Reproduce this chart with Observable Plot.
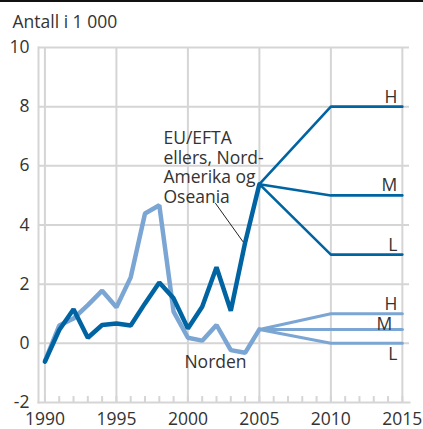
<!DOCTYPE html>
<html><head><meta charset="utf-8">
<script src="https://cdn.jsdelivr.net/npm/d3@7"></script>
<script src="https://cdn.jsdelivr.net/npm/@observablehq/plot@0.6"></script>
<style>body{margin:0;background:#fff}</style>
</head><body><div id="chart"></div>
<script>
const years = [1990,1991,1992,1993,1994,1995,1996,1997,1998,1999,2000,2001,2002,2003,2004,2005];
const euEfta = [-0.62,0.45,1.15,0.19,0.62,0.67,0.6,1.35,2.06,1.52,0.5,1.24,2.57,1.1,3.4,5.38];
const norden = [-0.6,0.6,0.84,1.29,1.78,1.22,2.23,4.39,4.67,1.07,0.19,0.09,0.62,-0.23,-0.32,0.47];
const projYears = [2005,2010,2015];
const euProj = {H:[5.38,8,8], M:[5.38,5,5], L:[5.38,3,3]};
const nordenProj = {H:[0.47,1,1], M:[0.47,0.47,0.47], L:[0.47,0,0]};
const xTicks = [1990,1995,2000,2005,2010,2015];
const yTicks = [-2,0,2,4,6,8,10];
const euLabel = ["EU/EFTA","ellers, Nord-","Amerika og","Oseania"];

const dark = "#0064a3", light = "#7ba6d4", grid = "#d5d5d5", ink = "#333";
const font = "'Open Sans', sans-serif";
const fs = 17.5;

const hist = (vals) => years.map((y,i)=>({year:y, v:vals[i]}));
const proj = (obj) => Object.entries(obj).flatMap(([k,arr]) => projYears.map((y,i)=>({s:k, year:y, v:arr[i]})));
const euP = proj(euProj), noP = proj(nordenProj);
const endLabels = (obj) => Object.entries(obj).map(([k,arr])=>({s:k, year:2015, v:arr[2]}));
const nl = endLabels(nordenProj);

const chart = Plot.plot({
  width: 423, height: 429,
  marginTop: 47, marginBottom: 27, marginLeft: 38, marginRight: 14,
  x: {domain:[1989.55, 2015.5]},
  y: {domain:[-2,10]},
  style: {fontFamily: font, fontSize: fs + "px", color: ink},
  marks: [
    Plot.gridX(xTicks, {stroke: grid, strokeOpacity: 1, strokeWidth: 2}),
    Plot.gridY(yTicks.filter(d=>d>-2), {stroke: grid, strokeOpacity: 1, strokeWidth: 2}),
    Plot.frame({anchor:"left", stroke: grid, strokeWidth: 2}),
    Plot.frame({anchor:"bottom", stroke: grid, strokeWidth: 2}),
    Plot.ruleX(d3.range(1990,2016), {x: d=>d, y1:-2, y2:-1.8, stroke: grid, strokeWidth: 2}),
    Plot.axisY(yTicks, {tickSize: 0, tickPadding: 9, fontSize: fs, fill: ink, tickFormat: d=>String(d)}),
    Plot.axisX(xTicks, {tickSize: 0, tickPadding: 10, fontSize: fs, fill: ink, tickFormat: d=>String(d)}),
    Plot.line(noP, {x:"year", y:"v", z:"s", stroke: light, strokeWidth: 3}),
    Plot.line(euP, {x:"year", y:"v", z:"s", stroke: dark, strokeWidth: 2.6}),
    Plot.line(hist(norden), {x:"year", y:"v", stroke: light, strokeWidth: 4.5, strokeLinejoin:"miter"}),
    Plot.line(hist(euEfta), {x:"year", y:"v", stroke: dark, strokeWidth: 4.5, strokeLinejoin:"miter"}),
    Plot.text(endLabels(euProj), {x:"year", y:"v", text:"s", textAnchor:"end", lineAnchor:"bottom", dy:-4, dx:-5, fill: ink, fontSize: fs}),
    Plot.text(nl.filter(d=>d.s==="H"), {x:"year", y:"v", text:"s", textAnchor:"end", lineAnchor:"bottom", dy:-4, dx:-5, fill: ink, fontSize: fs}),
    Plot.text(nl.filter(d=>d.s==="M"), {x:"year", y:"v", text:"s", textAnchor:"end", lineAnchor:"bottom", dy:1, dx:-10, fill: ink, fontSize: fs}),
    Plot.text(nl.filter(d=>d.s==="L"), {x:"year", y:"v", text:"s", textAnchor:"end", lineAnchor:"top", dy:4, dx:-5, fill: ink, fontSize: fs}),
    Plot.link([{x1:2001.92,y1:4.74,x2:2003.86,y2:3.43}], {x1:"x1",y1:"y1",x2:"x2",y2:"y2", stroke:"#222", strokeWidth:1}),
    Plot.text([euLabel.join("\n")], {x:1998.29, y:7.2, text:d=>d, textAnchor:"start", lineAnchor:"top", lineHeight:1.12, fill: ink, fontSize: fs}),
    Plot.text(["Norden"], {x:2001.93, y:-0.63, text:d=>d, textAnchor:"middle", fill: ink, fontSize: fs}),
    Plot.text(["Antall i 1 000"], {frameAnchor:"top-left", dx:-26, dy:-25, lineAnchor:"middle", textAnchor:"start", fill: ink, fontSize: fs})
  ]
});
d3.select(chart).append("line").attr("x1",0).attr("x2",423).attr("y1",1).attr("y2",1).attr("stroke","#111").attr("stroke-width",2);
document.getElementById("chart").appendChild(chart);
</script></body></html>
